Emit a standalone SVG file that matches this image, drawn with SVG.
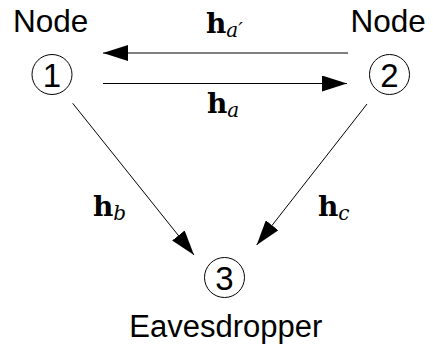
<svg xmlns="http://www.w3.org/2000/svg" width="433" height="345" viewBox="0 0 433 345">
<style>
.lbl{font-family:"Liberation Sans",Arial,sans-serif;font-size:31.5px;fill:#000}
.num{font-family:"Liberation Sans",Arial,sans-serif;font-size:33px;fill:#000;text-anchor:middle}
.eav{font-family:"Liberation Sans",Arial,sans-serif;font-size:31px;fill:#000;text-anchor:middle}
.node circle{fill:#fff;stroke:#000;stroke-width:1}
.edge{stroke:#000;stroke-width:1;fill:none}
.math{font-family:"DejaVu Serif","Liberation Serif",serif;fill:#000}
.hb{font-weight:bold;font-size:28px}
.sub{font-style:italic;font-size:20px}
</style>
<defs>
<marker id="ah" viewBox="0 0 25 16" refX="25" refY="8" markerWidth="25" markerHeight="16" markerUnits="userSpaceOnUse" orient="auto">
<path d="M0,0 L25,8 L0,16 z" fill="#000"/>
</marker>
</defs>
<rect width="433" height="345" fill="#fff"/>
<g id="connectors">
<line class="edge" x1="348" y1="53" x2="103" y2="53" marker-end="url(#ah)"/>
<line class="edge" x1="103" y1="83.5" x2="347" y2="83.5" marker-end="url(#ah)"/>
<line class="edge" x1="72.7" y1="103.3" x2="194" y2="255" marker-end="url(#ah)"/>
<line class="edge" x1="367" y1="104" x2="256.7" y2="245" marker-end="url(#ah)"/>
<text class="math" x="206" y="33"><tspan class="hb">h</tspan><tspan class="sub" dy="4">a′</tspan></text>
<text class="math" x="207" y="113"><tspan class="hb">h</tspan><tspan class="sub" dy="4">a</tspan></text>
<text class="math" x="93" y="216"><tspan class="hb">h</tspan><tspan class="sub" dy="4">b</tspan></text>
<text class="math" x="318" y="216"><tspan class="hb">h</tspan><tspan class="sub" dy="4">c</tspan></text>
</g>
<g id="node1" class="node">
<text class="lbl" x="13" y="32">Node</text>
<circle cx="52" cy="74.5" r="20"/>
<text class="num" x="52" y="86.5">1</text>
</g>
<g id="node2" class="node">
<text class="lbl" x="350.5" y="32">Node</text>
<circle cx="389.5" cy="74.5" r="20"/>
<text class="num" x="389.5" y="86.5">2</text>
</g>
<g id="node3" class="node">
<circle cx="224.5" cy="277.5" r="20"/>
<text class="num" x="224.5" y="289.5">3</text>
<text class="eav" x="225.8" y="337">Eavesdropper</text>
</g>
</svg>
